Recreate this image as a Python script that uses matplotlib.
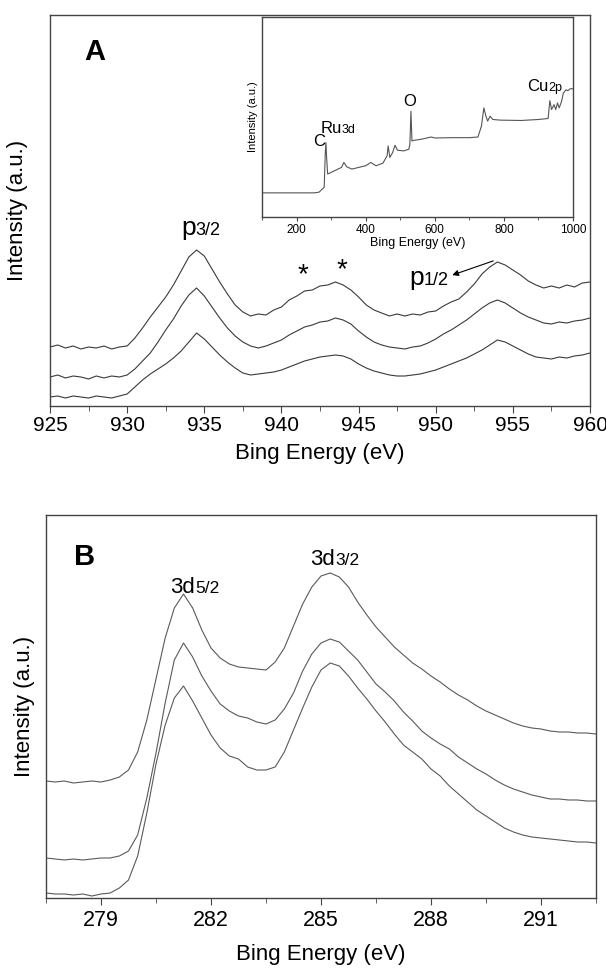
import numpy as np
import matplotlib.pyplot as plt
import matplotlib.transforms as mtransforms
from matplotlib.ticker import MultipleLocator

plt.rcParams['font.family'] = ['Liberation Sans', 'DejaVu Sans']

# ---- Panel A: Cu 2p region (intensity in arbitrary units)
energy_a = [925.0 + 0.5 * i for i in range(71)]
cu_top = [59, 61, 58, 60, 57, 59, 58, 60, 57, 59, 60, 68, 78, 89, 99, 109, 121, 135, 149, 156,
          150, 137, 124, 112, 101, 94, 90, 92, 91, 96, 99, 106, 110, 115, 116, 120, 121, 124, 121, 116,
          109, 101, 96, 93, 90, 92, 90, 92, 91, 94, 95, 100, 104, 107, 114, 122, 132, 139, 144, 141,
          136, 131, 125, 121, 118, 120, 118, 121, 119, 123, 124]
cu_mid = [29, 31, 28, 30, 29, 27, 30, 28, 30, 29, 31, 37, 45, 53, 64, 76, 87, 100, 111, 118,
          110, 99, 88, 78, 70, 64, 60, 58, 60, 63, 66, 71, 75, 79, 81, 84, 85, 88, 86, 82,
          75, 69, 64, 61, 59, 58, 57, 59, 60, 63, 67, 72, 76, 81, 86, 92, 98, 103, 106, 103,
          98, 93, 89, 86, 83, 82, 84, 83, 85, 86, 88]
cu_bot = [9, 10, 8, 10, 9, 8, 10, 9, 8, 10, 12, 19, 26, 32, 37, 42, 48, 55, 64, 73,
          67, 59, 51, 44, 38, 33, 31, 32, 33, 34, 36, 39, 42, 45, 47, 49, 50, 51, 50, 47,
          42, 38, 35, 33, 31, 30, 30, 31, 32, 34, 36, 39, 42, 45, 48, 52, 56, 61, 66, 64,
          60, 56, 52, 49, 48, 47, 49, 48, 50, 51, 53]

# ---- Inset: survey spectrum
survey_e = [100, 250, 265, 275, 280, 283, 285, 287, 290, 300, 320, 330, 337, 345, 360, 380, 400,
            415, 430, 450, 462, 465, 470, 478, 485, 492, 510, 525, 528, 531, 534, 540, 560, 590,
            600, 650, 700, 725, 735, 742, 748, 753, 760, 768, 790, 850, 900, 928, 933, 938, 945,
            950, 955, 960, 967, 972, 980, 985, 992, 1000]
survey_i = [73, 73, 75, 85, 90, 190, 225, 180, 130, 135, 145, 150, 165, 152, 145, 150, 155,
            165, 155, 163, 185, 215, 180, 195, 217, 202, 200, 205, 220, 320, 230, 232, 235, 242,
            239, 240, 240, 242, 275, 330, 305, 290, 305, 295, 293, 292, 295, 298, 352, 325, 340,
            325, 345, 330, 350, 375, 385, 382, 388, 388]

# ---- Panel B: Ru 3d region
energy_b = [277.5 + 0.25 * i for i in range(61)]
ru_top = [117, 116, 117, 115, 116, 117, 116, 118, 121, 128, 146, 178, 219, 260, 290, 304, 290, 268,
          250, 240, 234, 231, 230, 229, 228, 236, 250, 272, 294, 311, 322, 325, 321, 311, 296, 283,
          271, 261, 251, 243, 235, 229, 222, 216, 209, 203, 198, 192, 187, 183, 179, 175, 172, 170,
          169, 167, 166, 166, 165, 165, 164]
ru_mid = [40, 39, 38, 39, 38, 39, 40, 40, 42, 47, 63, 100, 145, 195, 238, 255, 241, 222,
          207, 194, 187, 182, 180, 176, 174, 178, 189, 205, 227, 244, 255, 259, 256, 247, 238, 226,
          214, 206, 197, 186, 177, 167, 160, 154, 149, 141, 135, 129, 124, 118, 113, 109, 106, 103,
          101, 99, 99, 98, 98, 97, 97]
ru_bot = [5, 4, 4, 3, 4, 2, 4, 5, 10, 18, 42, 85, 134, 173, 200, 212, 197, 180,
          163, 150, 142, 139, 131, 128, 128, 131, 146, 168, 190, 211, 228, 235, 232, 222, 210, 199,
          187, 176, 164, 153, 146, 139, 129, 122, 112, 104, 96, 88, 82, 76, 70, 66, 63, 61,
          60, 59, 58, 57, 56, 56, 55]

frame_col = '#444444'
line_col = '#3a3a3a'


def split_label(ax, x, y, big, small, size_big, size_small, shift):
    ax.text(x, y, big, fontsize=size_big, va='baseline', ha='left')
    ax.annotate(small, xy=(x, y), xytext=(shift, 0), textcoords='offset points',
                fontsize=size_small, va='baseline', ha='left')


def style_frame(ax):
    for s in ax.spines.values():
        s.set_color(frame_col)
        s.set_linewidth(1.0)
    ax.set_yticks([])
    ax.tick_params(axis='x', which='both', direction='out', colors=frame_col,
                   labelcolor='black', top=False)


fig = plt.figure(figsize=(6.06, 9.68), dpi=100)

# Panel A
ax_a = fig.add_axes([50 / 606, 1 - 406 / 968, 540 / 606, 391 / 968])
for trace in (cu_top, cu_mid, cu_bot):
    ax_a.plot(energy_a, trace, color=line_col, lw=0.8)
ax_a.set_xlim(925, 960)
ax_a.set_ylim(0, 391)
ax_a.xaxis.set_major_locator(MultipleLocator(5))
ax_a.xaxis.set_minor_locator(MultipleLocator(2.5))
style_frame(ax_a)
ax_a.tick_params(axis='x', which='major', length=5, labelsize=15, pad=2)
ax_a.tick_params(axis='x', which='minor', length=3.5)
ax_a.set_xlabel('Bing Energy (eV)', fontsize=16, labelpad=6)
ax_a.set_ylabel('Intensity (a.u.)', fontsize=16)
ax_a.yaxis.set_label_coords(-0.04, 0.5)
# keep the last tick label ("960") inside the figure edge
last_lbl = ax_a.get_xticklabels()[-1]
last_lbl.set_transform(last_lbl.get_transform() +
                       mtransforms.ScaledTranslation(-4 / 100, 0, fig.dpi_scale_trans))
ax_a.text(0.063, 0.905, 'A', transform=ax_a.transAxes, fontsize=21, fontweight='bold',
          va='center', ha='left')
split_label(ax_a, 933.5, 171, 'p', '3/2', 19, 13, 10.5)
split_label(ax_a, 948.3, 121, 'p', '1/2', 19, 13, 10.5)
ax_a.text(941.4, 131, '*', fontsize=20, ha='center', va='center')
ax_a.text(943.9, 136, '*', fontsize=20, ha='center', va='center')
ax_a.annotate('', xy=(950.9, 130), xytext=(953.9, 146),
              arrowprops=dict(arrowstyle='-|>', color='black', lw=0.8, mutation_scale=9))

# Inset survey
ax_in = fig.add_axes([262 / 606, 1 - 217 / 968, 311 / 606, 200 / 968])
ax_in.plot(survey_e, survey_i, color='#555555', lw=0.8)
ax_in.set_xlim(100, 1000)
ax_in.set_ylim(0, 605)
ax_in.xaxis.set_major_locator(MultipleLocator(200))
ax_in.xaxis.set_minor_locator(MultipleLocator(100))
style_frame(ax_in)
ax_in.tick_params(axis='x', which='major', length=3, labelsize=8.5, pad=2)
ax_in.tick_params(axis='x', which='minor', length=2)
ax_in.set_xlabel('Bing Energy (eV)', fontsize=9, labelpad=1)
ax_in.set_ylabel('Intensity (a.u.)', fontsize=8, labelpad=3)
ax_in.text(247, 215, 'C', fontsize=12, va='baseline', ha='left')
split_label(ax_in, 271, 255, 'Ru', '3d', 12, 9, 15)
ax_in.text(509, 335, 'O', fontsize=12, va='baseline', ha='left')
split_label(ax_in, 868, 380, 'Cu', '2p', 12, 9, 15)

# Panel B
ax_b = fig.add_axes([46 / 606, 1 - 898 / 968, 550 / 606, 383 / 968])
for trace in (ru_top, ru_mid, ru_bot):
    ax_b.plot(energy_b, trace, color='#5a5a5a', lw=0.8)
ax_b.set_xlim(277.5, 292.5)
ax_b.set_ylim(0, 383)
ax_b.xaxis.set_major_locator(MultipleLocator(3))
ax_b.xaxis.set_minor_locator(MultipleLocator(1.5))
style_frame(ax_b)
ax_b.set_xticks([279, 282, 285, 288, 291])
ax_b.tick_params(axis='x', which='major', length=5, labelsize=15.5, pad=4)
ax_b.tick_params(axis='x', which='minor', length=3.5)
ax_b.set_xlabel('Bing Energy (eV)', fontsize=16, labelpad=9)
ax_b.set_ylabel('Intensity (a.u.)', fontsize=16)
ax_b.yaxis.set_label_coords(-0.02, 0.5)
ax_b.text(0.05, 0.89, 'B', transform=ax_b.transAxes, fontsize=21, fontweight='bold',
          va='center', ha='left')
split_label(ax_b, 280.88, 305, '3d', '5/2', 16, 12.5, 18.5)
split_label(ax_b, 284.7, 333, '3d', '3/2', 16, 12.5, 18.5)

fig.savefig('out.png', dpi=100)
